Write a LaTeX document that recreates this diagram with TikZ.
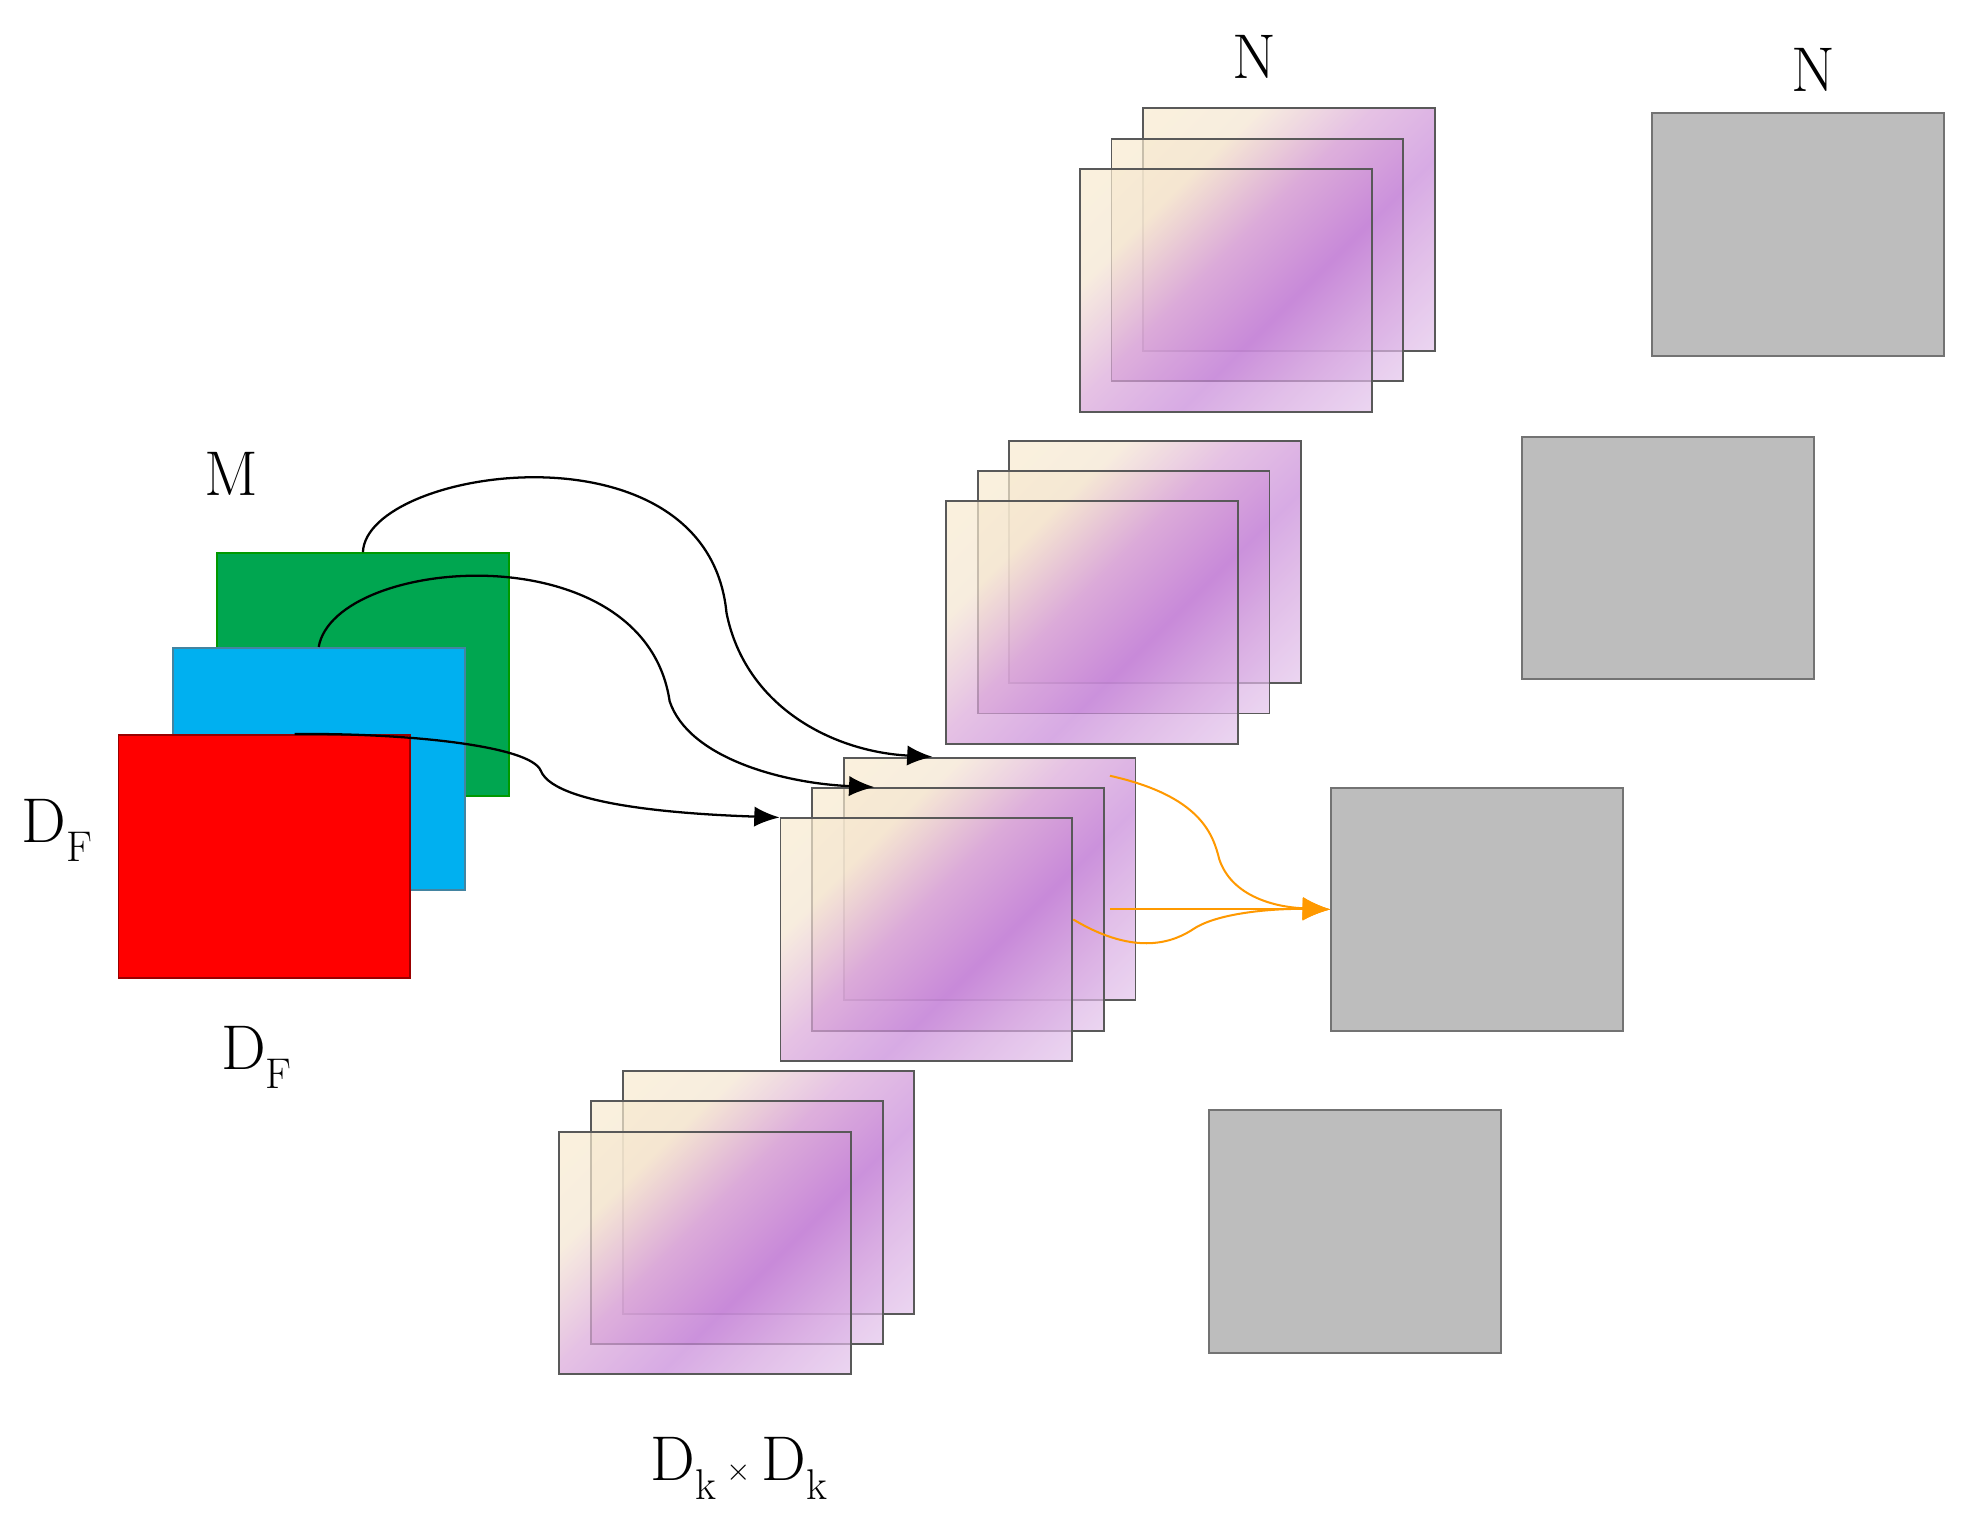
\documentclass[tikz,border=0pt]{standalone}
\usetikzlibrary{arrows.meta}
\pgfdeclarehorizontalshading{kern}{100bp}{rgb(0bp)=(0.99,0.95,0.80); rgb(30bp)=(0.96,0.90,0.82); rgb(45bp)=(0.86,0.66,0.85); rgb(60bp)=(0.78,0.53,0.85); rgb(72bp)=(0.84,0.65,0.88); rgb(100bp)=(0.95,0.90,0.97)}
\newcommand{\mysub}[1]{\raisebox{-0.3em}{\fontsize{34}{34}\selectfont #1}}
\begin{document}
\begin{tikzpicture}[x=1pt,y=-1pt,
  card/.style={draw=#1!60!black,line width=1.5pt,anchor=north west,inner sep=0,minimum width=231pt,minimum height=192pt},
  pur/.style={draw=black!65,line width=1.5pt,anchor=north west,inner sep=0,minimum width=231pt,minimum height=192pt,
     shading=kern,shading angle=-45,fill opacity=0.7},
  gry/.style={draw=black!55,line width=1.5pt,fill=black!26,anchor=north west,inner sep=0,minimum width=231pt,minimum height=192pt},
  lab/.style={font=\fontsize{50}{50}\selectfont},
  conn/.style={line width=1.8pt,-{Latex[length=20pt,width=16pt]}},
  oconn/.style={line width=1.6pt,draw=orange!80!yellow,-{Latex[length=22pt,width=18pt]}}]
\useasboundingbox (0,0) rectangle (1560,1202);
\fill[white] (0,0) rectangle (1560,1202);
% input
\node[card=green,fill={rgb,255:red,0;green,166;blue,80}] (g) at (171,437) {};
\node[card=cyan,fill={rgb,255:red,0;green,176;blue,240}] (b) at (136,512) {};
\node[card=red,fill=red] (r) at (93,581) {};
% kernel stacks
\foreach \n/\x/\y in {t/854/133, s/748/396, m/617/647, u/442/895}{
  \node[pur] (\n3) at (\x+50,\y-48) {};
  \node[pur] (\n2) at (\x+25,\y-24) {};
  \node[pur] (\n1) at (\x,\y) {};
}
% outputs
\node[gry] (o1) at (1307,89) {};
\node[gry] (o2) at (1204,345) {};
\node[gry] (o3) at (1053,623) {};
\node[gry] (o4) at (956,878) {};
% labels
\node[lab] (lM) at (183,375) {M};
\node[lab] (lN1) at (993,45) {N};
\node[lab] (lN2) at (1435,55) {N};
\node[lab] (lD1) at (45,657) {D\mysub{F}};
\node[lab] (lD2) at (203,837) {D\mysub{F}};
\node[lab] (lDk) at (585,1162) {D\mysub{k}\,$\times$\,D\mysub{k}};
% connectors
\draw[conn] (g.north) .. controls (290,370) and (560,330) .. (575,485)
   .. controls (590,560) and (660,595) .. ([xshift=71pt]m3.north west);
\draw[conn] (b.north) .. controls (265,440) and (510,420) .. (530,555)
   .. controls (545,600) and (620,620) .. ([xshift=50pt]m2.north west);
\draw[conn] ([xshift=24pt]r.north) .. controls (320,580) and (420,590) .. (428,610)
   .. controls (440,640) and (560,645) .. (m1.north west);
\draw[oconn] ([xshift=4pt,yshift=9pt]m2.north east) .. controls (950,630) and (960,660) .. (965,680)
   .. controls (975,710) and (1010,718) .. (o3.west);
\draw[oconn] ([xshift=4pt]m2.east) -- (o3.west);
\draw[oconn] ([yshift=16pt]m1.east) .. controls (900,758) and (930,745) .. (945,735)
   .. controls (965,722) and (1010,719) .. (o3.west);
\end{tikzpicture}
\end{document}
